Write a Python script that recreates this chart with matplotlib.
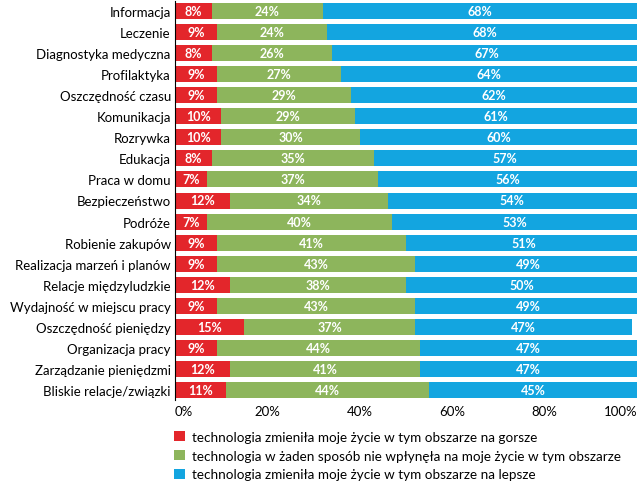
import matplotlib
matplotlib.use("Agg")
import matplotlib.pyplot as plt
from matplotlib.patches import Patch
import numpy as np

plt.rcParams['font.family'] = ['Lato', 'DejaVu Sans']

categories = ["Informacja", "Leczenie", "Diagnostyka medyczna", "Profilaktyka",
              "Oszczędność czasu", "Komunikacja", "Rozrywka", "Edukacja",
              "Praca w domu", "Bezpieczeństwo", "Podróże", "Robienie zakupów",
              "Realizacja marzeń i planów", "Relacje międzyludzkie",
              "Wydajność w miejscu pracy", "Oszczędność pieniędzy",
              "Organizacja pracy", "Zarządzanie pieniędzmi", "Bliskie relacje/związki"]
worse = [8, 9, 8, 9, 9, 10, 10, 8, 7, 12, 7, 9, 9, 12, 9, 15, 9, 12, 11]
neutral = [24, 24, 26, 27, 29, 29, 30, 35, 37, 34, 40, 41, 43, 38, 43, 37, 44, 41, 44]
better = [68, 68, 67, 64, 62, 61, 60, 57, 56, 54, 53, 51, 49, 50, 49, 47, 47, 47, 45]
series_labels = ["technologia zmieniła moje życie w tym obszarze na gorsze",
                 "technologia w żaden sposób nie wpłynęła na moje życie w tym obszarze",
                 "technologia zmieniła moje życie w tym obszarze na lepsze"]
xticks = [0, 20, 40, 60, 80, 100]
xtick_labels = ["0%", "20%", "40%", "60%", "80%", "100%"]

colors = ["#e3262b", "#8db55c", "#13a5e0"]

fig = plt.figure(figsize=(6.4, 4.89), dpi=100)
ax = fig.add_axes([175/640, 1 - 401.5/489, 462/640, 400/489])

y = np.arange(len(categories))
left = np.zeros(len(categories))
for vals, col in zip([worse, neutral, better], colors):
    vals = np.array(vals, dtype=float)
    ax.barh(y, vals, left=left, height=0.76, color=col, edgecolor='none')
    for yi, l, v in zip(y, left, vals):
        ax.text(l + v / 2, yi, f"{int(v)}%", ha='center', va='center',
                color='white', fontsize=9, fontweight='bold')
    left += vals

ax.set_xlim(0, 100)
ax.set_ylim(len(categories) - 0.5, -0.5)
ax.set_yticks(y)
ax.set_yticklabels(categories, fontsize=9.5)
ax.set_xticks(xticks)
ax.set_xticklabels(xtick_labels, fontsize=9.5)
tl = ax.get_xticklabels()
tl[0].set_horizontalalignment('left')
tl[-1].set_horizontalalignment('right')
ax.tick_params(axis='both', length=0, pad=3)
for s in ['top', 'right', 'bottom']:
    ax.spines[s].set_visible(False)
ax.spines['left'].set_color('black')
ax.spines['left'].set_linewidth(0.8)

handles = [Patch(facecolor=c, edgecolor='none') for c in colors]
fig.legend(handles, series_labels, loc='upper left',
           bbox_to_anchor=(174/640, 1 - 432/489), frameon=False,
           fontsize=9.7, handlelength=0.8, handleheight=0.8,
           handletextpad=0.5, labelspacing=0.5, borderpad=0, borderaxespad=0)

fig.savefig("out.png", dpi=100)
